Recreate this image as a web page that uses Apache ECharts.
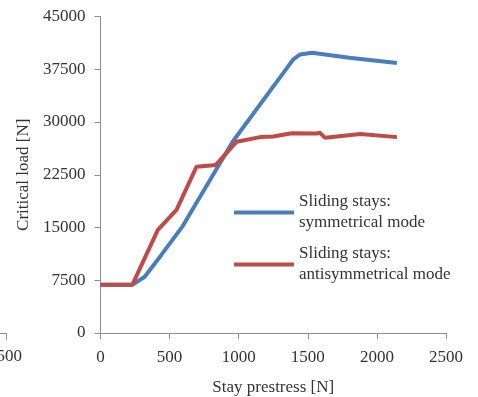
<!DOCTYPE html>
<html>
<head>
<meta charset="utf-8">
<script src="https://cdn.jsdelivr.net/npm/echarts@6/dist/echarts.min.js"></script>
<style>html,body{margin:0;padding:0;background:#fff;}#c{width:478px;height:397px;}</style>
</head>
<body>
<div id="c"></div>
<script>
var seriesNames = ['Sliding stays:\nsymmetrical mode', 'Sliding stays:\nantisymmetrical mode'];
var symmetricalX = [0, 230, 320, 440, 595, 960, 1395, 1445, 1530, 1800, 2145];
var symmetricalY = [6850, 6850, 8000, 11100, 15200, 27300, 38900, 39600, 39850, 39150, 38400];
var antisymX = [0, 230, 415, 550, 695, 835, 985, 1155, 1250, 1320, 1385, 1565, 1585, 1625, 1880, 2145];
var antisymY = [6850, 6850, 14650, 17500, 23650, 23900, 27200, 27850, 27950, 28200, 28400, 28350, 28500, 27750, 28300, 27850];
var xTicks = [0, 500, 1000, 1500, 2000, 2500];
var yTicks = [0, 7500, 15000, 22500, 30000, 37500, 45000];

function pairs(xs, ys) { return xs.map(function (x, i) { return [x, ys[i]]; }); }
function plain(v) { return String(v); }

var FONT = 'Liberation Serif';
var axisColor = '#8f8f8f';
var chart = echarts.init(document.getElementById('c'), null, {renderer: 'canvas'});
chart.setOption({
  animation: false,
  backgroundColor: '#fff',
  grid: {left: 100.5, right: 32, top: 16.5, bottom: 64, containLabel: false, outerBoundsMode: 'none'},
  xAxis: {
    type: 'value', min: xTicks[0], max: xTicks[xTicks.length - 1], interval: 500,
    name: 'Stay prestress [N]', nameLocation: 'middle', nameGap: 46,
    nameTextStyle: {fontFamily: FONT, fontSize: 17, color: '#333'},
    axisLine: {show: true, lineStyle: {color: axisColor, width: 1}},
    axisTick: {show: true, length: 6, lineStyle: {color: axisColor}},
    axisLabel: {margin: 16, fontFamily: FONT, fontSize: 17, color: '#333', formatter: plain},
    splitLine: {show: false}
  },
  yAxis: {
    type: 'value', min: yTicks[0], max: yTicks[yTicks.length - 1], interval: 7500,
    name: 'Critical load [N]', nameLocation: 'middle', nameGap: 68,
    nameTextStyle: {fontFamily: FONT, fontSize: 17, color: '#333'},
    axisLine: {show: true, lineStyle: {color: axisColor, width: 1}},
    axisTick: {show: true, length: 6, lineStyle: {color: axisColor}},
    axisLabel: {margin: 15, fontFamily: FONT, fontSize: 17, color: '#333', formatter: plain},
    splitLine: {show: false}
  },
  legend: {
    orient: 'vertical', left: 229, top: 176, itemWidth: 60, itemHeight: 4, itemGap: -11,
    icon: 'rect',
    textStyle: {fontFamily: FONT, fontSize: 17, color: '#333', lineHeight: 21, padding: [21, 0, 0, 0]},
    data: seriesNames
  },
  series: [
    {name: seriesNames[0], type: 'line', data: pairs(symmetricalX, symmetricalY), showSymbol: false, symbol: 'none',
     lineStyle: {color: '#4a7ebb', width: 4}, itemStyle: {color: '#4a7ebb'}, z: 2},
    {name: seriesNames[1], type: 'line', data: pairs(antisymX, antisymY), showSymbol: false, symbol: 'none',
     lineStyle: {color: '#be4b48', width: 4}, itemStyle: {color: '#be4b48'}, z: 3}
  ],
  graphic: [
    {type: 'polyline', shape: {points: [[0, 333.5], [6.5, 333.5], [6.5, 340]]}, style: {stroke: axisColor, lineWidth: 1, fill: null}},
    {type: 'text', x: 5, y: 357, style: {text: '2500', fontFamily: FONT, fontSize: 17, fill: '#333', textAlign: 'center', textVerticalAlign: 'middle'}}
  ]
});
</script>
</body>
</html>
